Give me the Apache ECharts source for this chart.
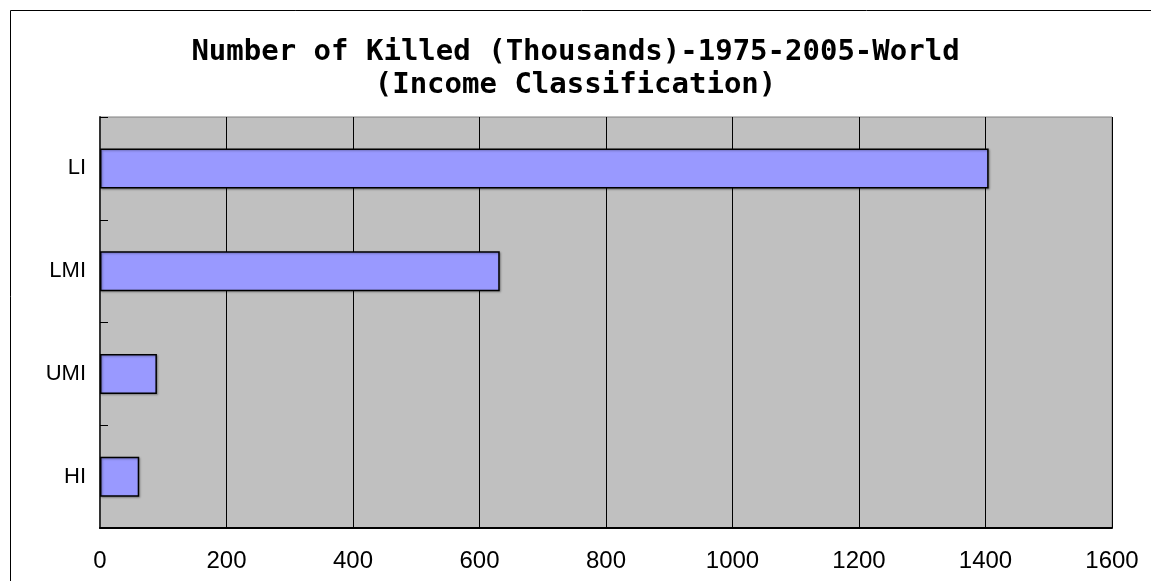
<!DOCTYPE html>
<html>
<head>
<meta charset="utf-8">
<title>Number of Killed - Income Classification</title>
<script src="https://cdn.jsdelivr.net/npm/echarts@6/dist/echarts.min.js"></script>
<style>
    html, body { margin: 0; padding: 0; background: #fff; }
    #bar_income { width: 1151px; height: 581px; }
</style>
</head>
<body>
<div id="bar_income"></div>
<script>

// Chart data
// ------------------------------

var categories = ['LI', 'LMI', 'UMI', 'HI'];
var killedValues = [1405, 632, 90, 62];
var titleLines = ['Number of Killed (Thousands)-1975-2005-World', '(Income Classification)'];


// Setup module
// ------------------------------

var EchartsBarIncome = function() {

    var _barIncome = function() {
        if (typeof echarts == 'undefined') {
            console.warn('Warning - echarts.min.js is not loaded.');
            return;
        }

        // Define element
        var bar_element = document.getElementById('bar_income');

        if (bar_element) {

            // Initialize chart
            var bar_chart = echarts.init(bar_element);

            bar_chart.setOption({

                animation: false,

                textStyle: {
                    fontFamily: 'Liberation Sans, Arial, sans-serif'
                },

                // Outer frame (only top and left edges fall inside the picture)
                graphic: [{
                    type: 'rect',
                    shape: { x: 10.5, y: 10.5, width: 1300, height: 700 },
                    style: { fill: 'none', stroke: '#000', lineWidth: 1 },
                    silent: true
                }],

                // Title
                title: {
                    text: titleLines.join('\n'),
                    left: 'center',
                    top: 31,
                    textStyle: {
                        fontFamily: 'DejaVu Sans Mono, monospace',
                        fontSize: 29,
                        fontWeight: 'bold',
                        color: '#000',
                        lineHeight: 33
                    }
                },

                // Setup grid
                grid: {
                    left: 100,
                    right: 39,
                    top: 117,
                    bottom: 53,
                    show: true,
                    backgroundColor: '#c0c0c0',
                    borderColor: '#808080',
                    borderWidth: 1
                },

                // Horizontal axis
                xAxis: {
                    type: 'value',
                    min: 0,
                    max: 1600,
                    interval: 200,
                    axisLine: {
                        show: true,
                        lineStyle: { color: '#000', width: 2 }
                    },
                    axisTick: { show: false },
                    axisLabel: {
                        color: '#000',
                        fontSize: 24,
                        margin: 21,
                        formatter: function(v) { return String(v); }
                    },
                    splitLine: {
                        show: true,
                        lineStyle: { color: '#000', width: 1 }
                    }
                },

                // Vertical axis
                yAxis: {
                    type: 'category',
                    inverse: true,
                    data: categories,
                    axisLine: {
                        show: true,
                        lineStyle: { color: '#333', width: 2 }
                    },
                    axisTick: {
                        show: true,
                        inside: true,
                        length: 8,
                        lineStyle: { color: '#000', width: 1 }
                    },
                    axisLabel: {
                        color: '#000',
                        fontSize: 22,
                        margin: 14
                    },
                    splitLine: { show: false }
                },

                // Add series
                series: [{
                    name: 'Killed',
                    type: 'bar',
                    data: killedValues,
                    barWidth: 40,
                    itemStyle: {
                        color: '#9999ff',
                        borderColor: '#000',
                        borderWidth: 1.5,
                        shadowColor: 'rgba(0,0,0,0.3)',
                        shadowBlur: 2,
                        shadowOffsetX: 1,
                        shadowOffsetY: 1
                    }
                }]
            });
        }
    };

    return {
        init: function() {
            _barIncome();
        }
    }
}();


// Initialize module
// ------------------------------

document.addEventListener('DOMContentLoaded', function() {
    EchartsBarIncome.init();
});
</script>
</body>
</html>
